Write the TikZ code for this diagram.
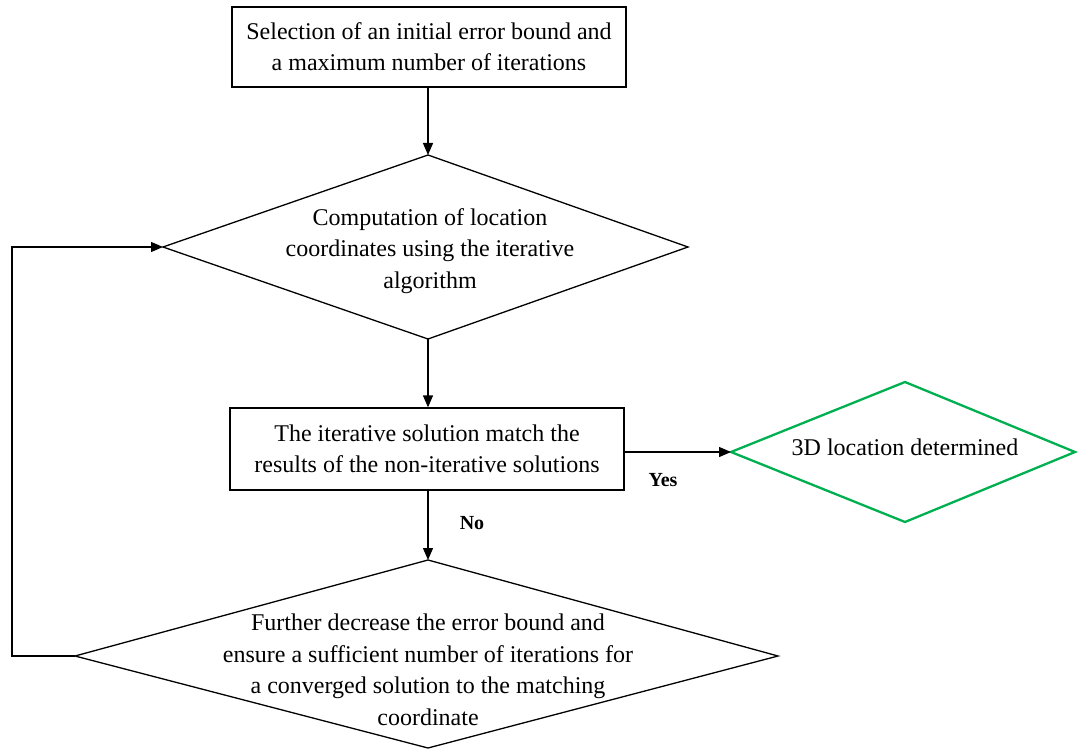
\documentclass[tikz,border=0pt]{standalone}
\usepackage{fontspec}
\setmainfont{Liberation Serif}
\usetikzlibrary{arrows.meta}
\definecolor{okgreen}{RGB}{0,176,80}
\begin{document}
\begin{tikzpicture}[x=1pt,y=-1pt,
  line/.style={line width=1.3pt,black},
  arr/.style={line, -{Triangle[length=12pt,width=10pt]}},
  boxnode/.style={draw,line width=1.3pt,minimum width=394pt,inner sep=0pt,align=center,font=\fontsize{24}{31}\selectfont},
  txt/.style={align=center,font=\fontsize{24}{31.5}\selectfont,inner sep=0pt},
  lab/.style={font=\fontsize{20}{22}\selectfont\bfseries,inner sep=0pt}]
\useasboundingbox (0,0) rectangle (1079,749);
% box 1
\node[boxnode,minimum height=80pt] (b1) at (429,47) {Selection of an initial error bound and\\a maximum number of iterations};
% diamond 1
\coordinate (d1t) at (428,155);
\coordinate (d1b) at (428,339);
\coordinate (d1l) at (163,247);
\coordinate (d1r) at (688,247);
\draw[line] (d1t) -- (d1r) -- (d1b) -- (d1l) -- cycle;
\node[txt] (d1) at (430,251) {Computation of location\\coordinates using the iterative\\algorithm};
% box 2
\node[boxnode,minimum height=82pt] (b2) at (427,449) {The iterative solution match the\\results of the non-iterative solutions};
% green diamond
\coordinate (gt) at (905,382);
\coordinate (gb) at (905,522);
\coordinate (gl) at (731,452);
\coordinate (gr) at (1075,452);
\draw[line width=2.3pt,okgreen,line join=miter] (gt) -- (gr) -- (gb) -- (gl) -- cycle;
\node[txt] (g) at (905,447) {3D location determined};
% diamond 3
\coordinate (d3t) at (428,560);
\coordinate (d3b) at (428,748);
\coordinate (d3l) at (75,656);
\coordinate (d3r) at (778,656);
\draw[line] (d3t) -- (d3r) -- (d3b) -- (d3l) -- cycle;
\node[txt] (d3) at (428,670) {Further decrease the error bound and\\ensure a sufficient number of iterations for\\a converged solution to the matching\\coordinate};
% connectors
\draw[arr] (b1.south -| d1t) -- (d1t);
\draw[arr] (d1b) -- (b2.north -| d1b);
\draw[arr] (b2.east |- gl) -- (gl);
\draw[arr] (b2.south -| d3t) -- (d3t);
\coordinate (fb1) at (12,656);
\coordinate (fb2) at (12,247);
\draw[arr] (d3l) -- (fb1) -- (fb2) -- (d1l);
\node[lab] (yes) at (663,480) {Yes};
\node[lab] (no) at (472,523) {No};
\end{tikzpicture}
\end{document}
